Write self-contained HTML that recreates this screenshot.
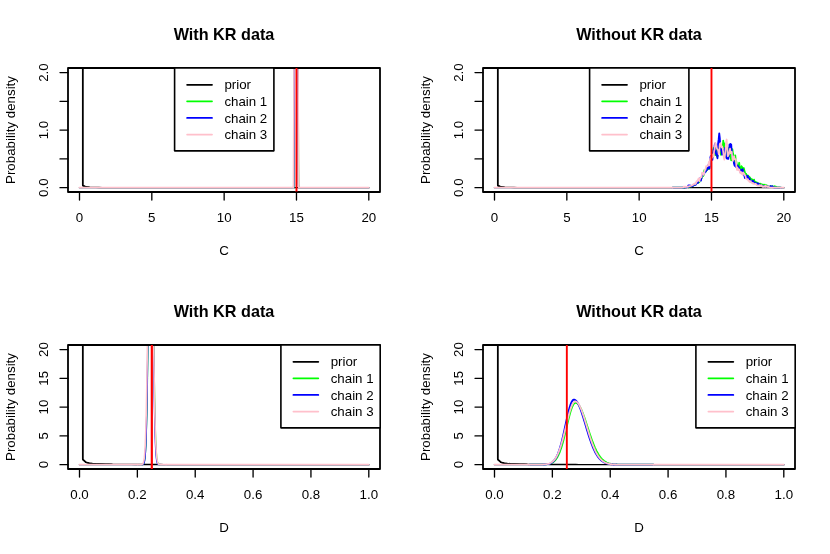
<!DOCTYPE html>
<html><head><meta charset="utf-8"><title>Posterior densities</title>
<style>html,body{margin:0;padding:0;background:#fff;}svg{display:block;will-change:transform;}</style></head>
<body>
<svg width="830" height="554" viewBox="0 0 830 554" font-family="Liberation Sans, sans-serif" fill="#000">
<rect width="830" height="554" fill="#fff"/>
<clipPath id="clip0_0"><rect x="68.00" y="68.00" width="312.00" height="124.00"/></clipPath>
<g clip-path="url(#clip0_0)" fill="none" stroke-linejoin="round" stroke-linecap="round">
<path d="M82.74,-42.45 L82.75,185.58 L86.00,186.92 L89.25,187.25 L92.50,187.39 L95.74,187.46 L98.99,187.51 L102.24,187.54 L105.49,187.56 L108.74,187.57 L111.99,187.58 L115.24,187.59 L118.49,187.60 L121.73,187.61 L128.23,187.61 L137.98,187.62 L157.47,187.63 L212.70,187.64 L368.80,187.65" stroke="#000" stroke-width="1.33"/>
<path d="M82.74,-42.45 L82.75,185.58 L86.00,186.92 L89.25,187.25" stroke="#000" stroke-width="1.6"/>
<path d="M79.50,187.65 L293.73,187.65" stroke="#00ff00" stroke-width="1.33"/>
<path d="M298.79,187.65 L368.80,187.65" stroke="#00ff00" stroke-width="1.33"/>
<path d="M293.73,187.65 L293.90,184.20 L294.45,63.97 L295.37,-157.50 L296.26,-272.55 L297.14,-157.50 L298.07,63.97 L298.61,184.20 L298.79,187.65" stroke="#00ff00" stroke-width="1.38"/>
<path d="M79.50,187.65 L293.63,187.65" stroke="#0000ff" stroke-width="1.33"/>
<path d="M298.60,187.65 L368.80,187.65" stroke="#0000ff" stroke-width="1.33"/>
<path d="M293.63,187.65 L293.80,184.20 L294.35,63.97 L295.24,-157.50 L296.11,-272.55 L296.98,-157.50 L297.88,63.97 L298.43,184.20 L298.60,187.65" stroke="#0000ff" stroke-width="1.38"/>
<path d="M79.50,187.65 L293.29,187.65" stroke="#ffc0cb" stroke-width="1.8"/>
<path d="M298.79,187.65 L368.80,187.65" stroke="#ffc0cb" stroke-width="1.8"/>
<path d="M293.29,187.65 L293.49,184.20 L294.04,63.97 L295.08,-157.50 L296.04,-272.55 L297.00,-157.50 L298.04,63.97 L298.60,184.20 L298.79,187.65" stroke="#ffc0cb" stroke-width="1.6"/>
</g>
<rect x="68.00" y="68.00" width="312.00" height="124.00" fill="none" stroke="#000" stroke-width="1.8" stroke-linejoin="round"/>
<line clip-path="url(#clip0_0)" x1="296.48" y1="245.18" x2="296.48" y2="15.07" stroke="#ff0000" stroke-width="1.9"/>
<line x1="79.50" y1="192.00" x2="79.50" y2="200.00" stroke="#000" stroke-width="1.33" stroke-linecap="round"/>
<text x="79.50" y="222.00" text-anchor="middle" font-size="13.3">0</text>
<line x1="151.82" y1="192.00" x2="151.82" y2="200.00" stroke="#000" stroke-width="1.33" stroke-linecap="round"/>
<text x="151.82" y="222.00" text-anchor="middle" font-size="13.3">5</text>
<line x1="224.15" y1="192.00" x2="224.15" y2="200.00" stroke="#000" stroke-width="1.33" stroke-linecap="round"/>
<text x="224.15" y="222.00" text-anchor="middle" font-size="13.3">10</text>
<line x1="296.48" y1="192.00" x2="296.48" y2="200.00" stroke="#000" stroke-width="1.33" stroke-linecap="round"/>
<text x="296.48" y="222.00" text-anchor="middle" font-size="13.3">15</text>
<line x1="368.80" y1="192.00" x2="368.80" y2="200.00" stroke="#000" stroke-width="1.33" stroke-linecap="round"/>
<text x="368.80" y="222.00" text-anchor="middle" font-size="13.3">20</text>
<line x1="68.00" y1="187.65" x2="60.00" y2="187.65" stroke="#000" stroke-width="1.33" stroke-linecap="round"/>
<line x1="68.00" y1="158.89" x2="60.00" y2="158.89" stroke="#000" stroke-width="1.33" stroke-linecap="round"/>
<line x1="68.00" y1="130.12" x2="60.00" y2="130.12" stroke="#000" stroke-width="1.33" stroke-linecap="round"/>
<line x1="68.00" y1="101.36" x2="60.00" y2="101.36" stroke="#000" stroke-width="1.33" stroke-linecap="round"/>
<line x1="68.00" y1="72.60" x2="60.00" y2="72.60" stroke="#000" stroke-width="1.33" stroke-linecap="round"/>
<text transform="translate(48.00,187.65) rotate(-90)" text-anchor="middle" font-size="13.3">0.0</text>
<text transform="translate(48.00,130.12) rotate(-90)" text-anchor="middle" font-size="13.3">1.0</text>
<text transform="translate(48.00,72.60) rotate(-90)" text-anchor="middle" font-size="13.3">2.0</text>
<text x="224.00" y="39.70" text-anchor="middle" font-size="16.2" font-weight="bold">With KR data</text>
<text x="224.00" y="255.10" text-anchor="middle" font-size="13.3">C</text>
<text transform="translate(14.90,130.00) rotate(-90)" text-anchor="middle" font-size="13.3">Probability density</text>
<rect x="174.60" y="68.00" width="99.3" height="82.85" fill="#fff" stroke="#000" stroke-width="1.6" stroke-linejoin="round"/>
<line x1="187.10" y1="84.75" x2="212.00" y2="84.75" stroke="#000" stroke-width="1.75" stroke-linecap="round"/>
<text x="224.40" y="89.30" font-size="13.3">prior</text>
<line x1="187.10" y1="101.35" x2="212.00" y2="101.35" stroke="#00ff00" stroke-width="1.75" stroke-linecap="round"/>
<text x="224.40" y="105.90" font-size="13.3">chain 1</text>
<line x1="187.10" y1="117.95" x2="212.00" y2="117.95" stroke="#0000ff" stroke-width="1.75" stroke-linecap="round"/>
<text x="224.40" y="122.50" font-size="13.3">chain 2</text>
<line x1="187.10" y1="134.55" x2="212.00" y2="134.55" stroke="#ffc0cb" stroke-width="1.75" stroke-linecap="round"/>
<text x="224.40" y="139.10" font-size="13.3">chain 3</text>
<clipPath id="clip415_0"><rect x="483.00" y="68.00" width="312.00" height="124.00"/></clipPath>
<g clip-path="url(#clip415_0)" fill="none" stroke-linejoin="round" stroke-linecap="round">
<path d="M497.74,-42.45 L497.75,185.58 L501.00,186.92 L504.25,187.25 L507.50,187.39 L510.74,187.46 L513.99,187.51 L517.24,187.54 L520.49,187.56 L523.74,187.57 L526.99,187.58 L530.24,187.59 L533.49,187.60 L536.73,187.61 L543.23,187.61 L552.98,187.62 L572.47,187.63 L627.70,187.64 L783.80,187.65" stroke="#000" stroke-width="1.33"/>
<path d="M497.74,-42.45 L497.75,185.58 L501.00,186.92 L504.25,187.25" stroke="#000" stroke-width="1.6"/>
<path d="M494.50,187.65 L672.42,187.65" stroke="#00ff00" stroke-width="1.33"/>
<path d="M780.91,187.65 L783.80,187.65" stroke="#00ff00" stroke-width="1.33"/>
<path d="M672.42,187.65 L678.13,187.63 L679.27,187.62 L680.98,187.60 L681.56,187.57 L683.27,187.56 L683.84,187.53 L684.41,187.50 L684.98,187.48 L685.55,187.45 L686.12,186.92 L686.69,187.18 L687.27,186.87 L687.84,187.22 L688.41,187.32 L688.98,187.09 L689.55,186.84 L690.12,185.85 L690.69,186.27 L691.26,186.38 L691.83,185.80 L692.40,185.70 L692.98,185.47 L693.55,185.62 L694.12,184.91 L694.69,184.91 L695.26,184.13 L695.83,183.92 L696.40,183.70 L696.97,182.96 L697.54,182.59 L698.11,182.53 L698.68,181.93 L699.26,182.33 L699.83,180.48 L700.40,179.56 L700.97,178.86 L701.54,178.39 L702.11,176.59 L702.68,176.26 L703.25,176.07 L703.82,174.25 L704.39,170.22 L704.97,171.37 L705.54,171.17 L706.11,171.39 L706.68,168.45 L707.25,167.81 L707.82,169.26 L708.39,165.78 L708.96,169.13 L709.53,166.41 L710.10,160.47 L710.68,160.91 L711.25,159.78 L711.82,156.56 L712.39,154.46 L712.96,157.13 L713.53,148.11 L714.10,149.92 L714.67,151.39 L715.24,155.14 L715.81,150.54 L716.39,148.97 L716.96,156.71 L717.53,156.41 L718.10,151.33 L718.67,147.58 L719.24,149.86 L719.81,147.41 L720.38,150.52 L720.95,154.79 L721.52,146.93 L722.10,149.44 L722.67,149.30 L723.24,140.56 L723.81,146.62 L724.38,143.46 L724.95,153.36 L725.52,156.58 L726.09,150.78 L726.66,150.80 L727.23,151.81 L727.81,149.15 L728.38,154.56 L728.95,147.78 L729.52,156.42 L730.09,152.39 L730.66,156.33 L731.23,160.34 L731.80,154.31 L732.37,149.16 L732.94,153.25 L733.52,155.83 L734.09,163.30 L734.66,157.30 L735.23,155.33 L735.80,160.58 L736.37,161.95 L736.94,166.73 L737.51,166.07 L738.08,165.90 L738.65,165.55 L739.22,162.76 L739.80,169.28 L740.37,169.64 L740.94,168.31 L741.51,166.24 L742.08,167.00 L742.65,170.28 L743.22,169.08 L743.79,168.02 L744.36,170.36 L744.93,172.56 L745.51,174.63 L746.08,173.84 L746.65,175.61 L747.22,175.99 L747.79,175.51 L748.36,176.06 L748.93,176.57 L749.50,177.00 L750.07,177.87 L750.64,178.60 L751.22,179.36 L751.79,179.07 L752.36,179.75 L752.93,180.52 L753.50,181.27 L754.07,179.71 L754.64,181.52 L755.21,182.56 L755.78,182.07 L756.35,182.31 L756.93,182.54 L757.50,182.86 L758.07,183.62 L758.64,184.14 L759.21,184.43 L759.78,183.72 L760.35,183.77 L760.92,184.12 L761.49,184.90 L762.06,184.35 L762.64,184.92 L763.21,185.21 L763.78,184.59 L764.35,185.31 L764.92,184.67 L765.49,185.57 L766.06,186.09 L766.63,185.22 L767.20,186.05 L767.77,186.17 L768.35,186.47 L768.92,186.87 L769.49,186.67 L770.06,186.54 L770.63,186.03 L771.20,186.77 L771.77,187.10 L772.34,186.28 L772.91,186.90 L773.48,187.12 L774.06,186.43 L774.63,186.25 L775.20,186.74 L775.77,186.64 L776.34,186.79 L776.91,187.41 L777.48,187.48 L779.19,187.48 L779.77,187.51 L780.34,187.54 L780.91,187.65" stroke="#00ff00" stroke-width="1.8"/>
<path d="M494.50,187.65 L672.42,187.65" stroke="#0000ff" stroke-width="1.33"/>
<path d="M780.91,187.65 L783.80,187.65" stroke="#0000ff" stroke-width="1.33"/>
<path d="M672.42,187.65 L678.13,187.63 L680.41,187.62 L680.98,187.61 L681.56,187.59 L682.13,187.58 L682.70,187.57 L683.27,187.52 L683.84,187.51 L684.41,187.50 L684.98,187.47 L685.55,187.45 L686.12,187.18 L686.69,187.28 L687.27,186.79 L687.84,186.97 L688.41,185.42 L688.98,186.90 L689.55,185.41 L690.12,185.29 L690.69,186.39 L691.26,186.34 L691.83,186.26 L692.40,185.46 L692.98,185.85 L693.55,185.31 L694.12,184.76 L694.69,184.65 L695.26,184.85 L695.83,184.63 L696.40,182.96 L696.97,183.03 L697.54,182.72 L698.11,182.75 L698.68,180.14 L699.26,179.95 L699.83,178.49 L700.40,179.18 L700.97,180.60 L701.54,177.67 L702.11,175.91 L702.68,173.68 L703.25,173.12 L703.82,174.52 L704.39,173.08 L704.97,172.30 L705.54,171.69 L706.11,170.68 L706.68,170.33 L707.25,169.73 L707.82,165.40 L708.39,166.23 L708.96,168.30 L709.53,168.52 L710.10,159.04 L710.68,156.06 L711.25,155.94 L711.82,155.84 L712.39,159.96 L712.96,154.97 L713.53,149.64 L714.10,152.07 L714.67,145.10 L715.24,143.47 L715.81,152.94 L716.39,154.92 L716.96,154.11 L717.53,158.31 L718.10,143.54 L718.67,139.39 L719.24,133.31 L719.81,138.04 L720.38,149.73 L720.95,148.38 L721.52,151.95 L722.10,154.70 L722.67,152.83 L723.24,149.90 L723.81,151.59 L724.38,154.33 L724.95,147.80 L725.52,148.32 L726.09,157.29 L726.66,158.35 L727.23,158.72 L727.81,155.91 L728.38,158.89 L728.95,152.77 L729.52,144.52 L730.09,151.37 L730.66,143.99 L731.23,144.62 L731.80,153.23 L732.37,157.08 L732.94,156.98 L733.52,160.13 L734.09,163.89 L734.66,165.73 L735.23,163.20 L735.80,166.86 L736.37,164.22 L736.94,165.73 L737.51,167.73 L738.08,166.18 L738.65,167.27 L739.22,167.80 L739.80,170.57 L740.37,171.98 L740.94,170.07 L741.51,169.82 L742.08,170.75 L742.65,169.10 L743.22,172.05 L743.79,173.68 L744.36,175.66 L744.93,178.06 L745.51,176.59 L746.08,175.64 L746.65,177.30 L747.22,178.61 L747.79,175.92 L748.36,178.14 L748.93,179.15 L749.50,178.33 L750.07,179.91 L750.64,180.74 L751.22,181.76 L751.79,181.53 L752.36,181.56 L752.93,180.62 L753.50,182.08 L754.07,182.23 L754.64,183.07 L755.21,183.13 L755.78,183.09 L756.35,183.16 L756.93,184.37 L757.50,183.41 L758.07,184.52 L758.64,183.49 L759.21,184.80 L759.78,185.15 L760.35,185.52 L760.92,185.49 L761.49,185.49 L762.06,185.94 L762.64,185.77 L763.21,186.44 L763.78,185.84 L764.35,186.65 L764.92,185.89 L765.49,186.67 L766.06,186.63 L766.63,186.41 L767.20,186.81 L767.77,186.71 L768.35,186.23 L768.92,187.14 L769.49,186.88 L770.06,186.94 L770.63,186.11 L771.20,186.78 L771.77,186.68 L772.34,186.25 L772.91,187.43 L773.48,187.46 L774.06,187.50 L774.63,187.51 L775.20,187.53 L776.91,187.54 L777.48,187.56 L778.05,187.58 L779.77,187.59 L780.34,187.61 L780.91,187.65" stroke="#0000ff" stroke-width="1.8"/>
<path d="M494.50,187.65 L672.42,187.65" stroke="#ffc0cb" stroke-width="1.8"/>
<path d="M780.91,187.65 L783.80,187.65" stroke="#ffc0cb" stroke-width="1.8"/>
<path d="M672.42,187.65 L675.85,187.63 L677.56,187.61 L678.70,187.60 L679.84,187.58 L681.56,187.56 L682.13,187.53 L682.70,187.50 L683.27,187.46 L683.84,186.51 L684.41,186.59 L684.98,187.19 L685.55,186.59 L686.12,186.81 L686.69,186.90 L687.27,186.99 L687.84,186.68 L688.41,186.62 L688.98,186.20 L689.55,186.15 L690.12,186.16 L690.69,185.96 L691.26,185.64 L691.83,185.42 L692.40,185.15 L692.98,184.47 L693.55,184.68 L694.12,183.50 L694.69,183.64 L695.26,184.13 L695.83,183.78 L696.40,181.45 L696.97,181.73 L697.54,180.34 L698.11,179.37 L698.68,178.31 L699.26,181.21 L699.83,179.59 L700.40,177.97 L700.97,176.92 L701.54,177.02 L702.11,172.58 L702.68,172.79 L703.25,173.48 L703.82,174.84 L704.39,172.31 L704.97,169.29 L705.54,169.74 L706.11,166.05 L706.68,166.60 L707.25,166.07 L707.82,166.04 L708.39,164.34 L708.96,161.65 L709.53,165.44 L710.10,158.72 L710.68,159.31 L711.25,156.54 L711.82,154.66 L712.39,157.70 L712.96,154.39 L713.53,156.73 L714.10,151.14 L714.67,149.31 L715.24,142.78 L715.81,145.17 L716.39,145.53 L716.96,148.66 L717.53,149.29 L718.10,150.32 L718.67,154.10 L719.24,152.82 L719.81,144.14 L720.38,143.02 L720.95,143.80 L721.52,147.39 L722.10,146.21 L722.67,148.12 L723.24,152.25 L723.81,157.83 L724.38,159.75 L724.95,155.51 L725.52,149.84 L726.09,142.29 L726.66,139.48 L727.23,146.69 L727.81,156.44 L728.38,155.18 L728.95,154.17 L729.52,151.20 L730.09,148.64 L730.66,153.27 L731.23,152.09 L731.80,151.95 L732.37,159.20 L732.94,160.85 L733.52,158.16 L734.09,156.05 L734.66,159.37 L735.23,159.02 L735.80,159.27 L736.37,166.50 L736.94,169.98 L737.51,167.62 L738.08,170.05 L738.65,169.59 L739.22,169.32 L739.80,171.76 L740.37,173.16 L740.94,171.97 L741.51,173.86 L742.08,173.23 L742.65,174.81 L743.22,172.44 L743.79,173.35 L744.36,173.94 L744.93,175.36 L745.51,176.09 L746.08,178.64 L746.65,179.27 L747.22,179.42 L747.79,179.05 L748.36,180.63 L748.93,180.63 L749.50,181.95 L750.07,181.04 L750.64,181.41 L751.22,182.15 L751.79,182.84 L752.36,182.98 L752.93,183.55 L753.50,183.16 L754.07,184.04 L754.64,184.01 L755.21,183.90 L755.78,183.74 L756.35,184.66 L756.93,185.24 L757.50,185.34 L758.07,185.85 L758.64,185.50 L759.21,185.08 L759.78,185.28 L760.35,185.36 L760.92,186.42 L761.49,185.20 L762.06,186.20 L762.64,186.88 L763.21,186.34 L763.78,186.89 L764.35,186.10 L764.92,186.78 L765.49,185.58 L766.06,186.89 L766.63,186.25 L767.20,186.32 L767.77,187.10 L768.35,186.23 L768.92,187.04 L769.49,187.35 L770.06,187.48 L770.63,187.50 L771.20,187.52 L771.77,187.54 L772.34,187.53 L772.91,187.51 L773.48,187.53 L774.06,187.55 L774.63,187.56 L775.20,187.58 L776.34,187.59 L777.48,187.61 L779.77,187.63 L780.34,187.63 L780.91,187.65" stroke="#ffc0cb" stroke-width="1.7"/>
</g>
<rect x="483.00" y="68.00" width="312.00" height="124.00" fill="none" stroke="#000" stroke-width="1.8" stroke-linejoin="round"/>
<line clip-path="url(#clip415_0)" x1="711.48" y1="245.18" x2="711.48" y2="15.07" stroke="#ff0000" stroke-width="1.9"/>
<line x1="494.50" y1="192.00" x2="494.50" y2="200.00" stroke="#000" stroke-width="1.33" stroke-linecap="round"/>
<text x="494.50" y="222.00" text-anchor="middle" font-size="13.3">0</text>
<line x1="566.83" y1="192.00" x2="566.83" y2="200.00" stroke="#000" stroke-width="1.33" stroke-linecap="round"/>
<text x="566.83" y="222.00" text-anchor="middle" font-size="13.3">5</text>
<line x1="639.15" y1="192.00" x2="639.15" y2="200.00" stroke="#000" stroke-width="1.33" stroke-linecap="round"/>
<text x="639.15" y="222.00" text-anchor="middle" font-size="13.3">10</text>
<line x1="711.48" y1="192.00" x2="711.48" y2="200.00" stroke="#000" stroke-width="1.33" stroke-linecap="round"/>
<text x="711.48" y="222.00" text-anchor="middle" font-size="13.3">15</text>
<line x1="783.80" y1="192.00" x2="783.80" y2="200.00" stroke="#000" stroke-width="1.33" stroke-linecap="round"/>
<text x="783.80" y="222.00" text-anchor="middle" font-size="13.3">20</text>
<line x1="483.00" y1="187.65" x2="475.00" y2="187.65" stroke="#000" stroke-width="1.33" stroke-linecap="round"/>
<line x1="483.00" y1="158.89" x2="475.00" y2="158.89" stroke="#000" stroke-width="1.33" stroke-linecap="round"/>
<line x1="483.00" y1="130.12" x2="475.00" y2="130.12" stroke="#000" stroke-width="1.33" stroke-linecap="round"/>
<line x1="483.00" y1="101.36" x2="475.00" y2="101.36" stroke="#000" stroke-width="1.33" stroke-linecap="round"/>
<line x1="483.00" y1="72.60" x2="475.00" y2="72.60" stroke="#000" stroke-width="1.33" stroke-linecap="round"/>
<text transform="translate(463.00,187.65) rotate(-90)" text-anchor="middle" font-size="13.3">0.0</text>
<text transform="translate(463.00,130.12) rotate(-90)" text-anchor="middle" font-size="13.3">1.0</text>
<text transform="translate(463.00,72.60) rotate(-90)" text-anchor="middle" font-size="13.3">2.0</text>
<text x="639.00" y="39.70" text-anchor="middle" font-size="16.2" font-weight="bold">Without KR data</text>
<text x="639.00" y="255.10" text-anchor="middle" font-size="13.3">C</text>
<text transform="translate(429.90,130.00) rotate(-90)" text-anchor="middle" font-size="13.3">Probability density</text>
<rect x="589.60" y="68.00" width="99.3" height="82.85" fill="#fff" stroke="#000" stroke-width="1.6" stroke-linejoin="round"/>
<line x1="602.10" y1="84.75" x2="627.00" y2="84.75" stroke="#000" stroke-width="1.75" stroke-linecap="round"/>
<text x="639.40" y="89.30" font-size="13.3">prior</text>
<line x1="602.10" y1="101.35" x2="627.00" y2="101.35" stroke="#00ff00" stroke-width="1.75" stroke-linecap="round"/>
<text x="639.40" y="105.90" font-size="13.3">chain 1</text>
<line x1="602.10" y1="117.95" x2="627.00" y2="117.95" stroke="#0000ff" stroke-width="1.75" stroke-linecap="round"/>
<text x="639.40" y="122.50" font-size="13.3">chain 2</text>
<line x1="602.10" y1="134.55" x2="627.00" y2="134.55" stroke="#ffc0cb" stroke-width="1.75" stroke-linecap="round"/>
<text x="639.40" y="139.10" font-size="13.3">chain 3</text>
<clipPath id="clip0_277"><rect x="68.00" y="345.00" width="312.00" height="124.00"/></clipPath>
<g clip-path="url(#clip0_277)" fill="none" stroke-linejoin="round" stroke-linecap="round">
<path d="M82.74,234.55 L82.75,459.47 L86.00,462.35 L89.25,463.22 L92.50,463.63 L95.74,463.86 L98.99,464.01 L102.24,464.12 L105.49,464.20 L108.74,464.25 L111.99,464.30 L115.24,464.34 L118.49,464.37 L121.73,464.39 L124.98,464.41 L128.23,464.43 L131.48,464.45 L134.73,464.46 L137.98,464.47 L141.23,464.48 L144.48,464.49 L147.73,464.50 L150.97,464.51 L154.22,464.52 L157.47,464.52 L160.72,464.53 L163.97,464.54 L170.47,464.55 L176.97,464.55 L183.46,464.56 L193.21,464.57 L206.20,464.58 L222.45,464.59 L245.19,464.60 L277.68,464.61 L326.41,464.62 L368.65,464.62 L368.80,464.65" stroke="#000" stroke-width="1.33"/>
<path d="M82.74,234.55 L82.75,459.47 L86.00,462.35 L89.25,463.22 L92.50,463.63 L95.74,463.86 L98.99,464.01 L102.24,464.12 L105.49,464.20 L108.74,464.25 L111.99,464.30" stroke="#000" stroke-width="1.6"/>
<path d="M79.50,464.65 L137.36,464.65" stroke="#00ff00" stroke-width="1.33"/>
<path d="M166.29,464.65 L368.80,464.65" stroke="#00ff00" stroke-width="1.33"/>
<path d="M137.36,464.65 L141.22,464.64 L141.46,464.63 L141.70,464.62 L141.94,464.60 L142.18,464.56 L142.42,464.51 L142.66,464.44 L142.90,464.33 L143.15,464.16 L143.39,463.93 L143.63,463.59 L143.87,463.10 L144.11,462.43 L144.35,461.51 L144.59,460.26 L144.83,458.59 L145.07,456.40 L145.32,453.54 L145.56,449.89 L145.80,445.28 L146.04,439.56 L146.28,432.55 L146.52,424.10 L146.76,414.08 L147.00,402.37 L147.24,388.92 L147.49,373.73 L147.73,356.86 L147.97,338.47 L148.21,318.81 L148.45,298.21 L148.69,277.09 L148.93,255.95 L149.17,235.36 L149.41,215.91 L149.66,198.21 L149.90,182.85 L150.14,170.36 L150.38,161.19 L150.62,155.68 L150.86,154.03 L151.10,156.30 L151.34,162.42 L151.58,172.15 L151.82,185.13 L152.07,200.90 L152.31,218.92 L152.55,238.60 L152.79,259.31 L153.03,280.48 L153.27,301.55 L153.51,322.03 L153.75,341.51 L153.99,359.67 L154.24,376.28 L154.48,391.19 L154.72,404.36 L154.96,415.80 L155.20,425.56 L155.44,433.76 L155.68,440.56 L155.92,446.09 L156.16,450.53 L156.41,454.05 L156.65,456.79 L156.89,458.89 L157.13,460.49 L157.37,461.68 L157.61,462.56 L157.85,463.19 L158.09,463.65 L158.33,463.97 L158.58,464.19 L158.82,464.35 L159.06,464.45 L159.30,464.52 L159.54,464.57 L159.78,464.60 L160.02,464.62 L160.50,464.64 L166.29,464.65" stroke="#00ff00" stroke-width="1.38"/>
<path d="M79.50,464.65 L137.36,464.65" stroke="#0000ff" stroke-width="1.33"/>
<path d="M166.29,464.65 L368.80,464.65" stroke="#0000ff" stroke-width="1.33"/>
<path d="M137.36,464.65 L141.46,464.64 L141.70,464.63 L141.94,464.61 L142.18,464.59 L142.42,464.55 L142.66,464.49 L142.90,464.40 L143.15,464.26 L143.39,464.05 L143.63,463.74 L143.87,463.30 L144.11,462.68 L144.35,461.80 L144.59,460.59 L144.83,458.95 L145.07,456.74 L145.32,453.84 L145.56,450.08 L145.80,445.27 L146.04,439.22 L146.28,431.75 L146.52,422.67 L146.76,411.81 L147.00,399.05 L147.24,384.32 L147.49,367.64 L147.73,349.09 L147.97,328.88 L148.21,307.32 L148.45,284.82 L148.69,261.93 L148.93,239.24 L149.17,217.45 L149.41,197.25 L149.66,179.37 L149.90,164.45 L150.14,153.07 L150.38,145.69 L150.62,142.60 L150.86,143.93 L151.10,149.62 L151.34,159.44 L151.58,173.01 L151.82,189.78 L152.07,209.14 L152.31,230.38 L152.55,252.79 L152.79,275.68 L153.03,298.40 L153.27,320.40 L153.51,341.19 L153.75,360.43 L153.99,377.88 L154.24,393.40 L154.48,406.94 L154.72,418.54 L154.96,428.32 L155.20,436.42 L155.44,443.01 L155.68,448.29 L155.92,452.45 L156.16,455.68 L156.41,458.14 L156.65,459.99 L156.89,461.36 L157.13,462.36 L157.37,463.08 L157.61,463.59 L157.85,463.94 L158.09,464.18 L158.33,464.35 L158.58,464.46 L158.82,464.53 L159.06,464.57 L159.30,464.60 L159.54,464.62 L160.02,464.64 L166.29,464.65" stroke="#0000ff" stroke-width="1.38"/>
<path d="M79.50,464.65 L137.36,464.65" stroke="#ffc0cb" stroke-width="1.8"/>
<path d="M166.29,464.65 L368.80,464.65" stroke="#ffc0cb" stroke-width="1.8"/>
<path d="M137.36,464.65 L140.49,464.63 L140.74,464.63 L140.98,464.61 L141.22,464.59 L141.46,464.56 L141.70,464.51 L141.94,464.43 L142.18,464.32 L142.42,464.17 L142.66,463.95 L142.90,463.64 L143.15,463.20 L143.39,462.60 L143.63,461.79 L143.87,460.71 L144.11,459.27 L144.35,457.40 L144.59,454.98 L144.83,451.90 L145.07,448.02 L145.32,443.22 L145.56,437.35 L145.80,430.27 L146.04,421.83 L146.28,411.93 L146.52,400.48 L146.76,387.43 L147.00,372.78 L147.24,356.59 L147.49,338.99 L147.73,320.18 L147.97,300.45 L148.21,280.13 L148.45,259.65 L148.69,239.49 L148.93,220.14 L149.17,202.15 L149.41,186.04 L149.66,172.29 L149.90,161.34 L150.14,153.56 L150.38,149.20 L150.62,148.40 L150.86,151.21 L151.10,157.51 L151.34,167.10 L151.58,179.67 L151.82,194.80 L152.07,212.03 L152.31,230.84 L152.55,250.71 L152.79,271.11 L153.03,291.55 L153.27,311.59 L153.51,330.85 L153.75,349.01 L153.99,365.84 L154.24,381.18 L154.48,394.94 L154.72,407.09 L154.96,417.66 L155.20,426.73 L155.44,434.39 L155.68,440.78 L155.92,446.04 L156.16,450.30 L156.41,453.71 L156.65,456.40 L156.89,458.51 L157.13,460.12 L157.37,461.35 L157.61,462.28 L157.85,462.96 L158.09,463.46 L158.33,463.82 L158.58,464.08 L158.82,464.26 L159.06,464.39 L159.30,464.48 L159.54,464.54 L159.78,464.58 L160.02,464.60 L160.26,464.62 L160.75,464.64 L166.29,464.65" stroke="#ffc0cb" stroke-width="1.6"/>
</g>
<rect x="68.00" y="345.00" width="312.00" height="124.00" fill="none" stroke="#000" stroke-width="1.8" stroke-linejoin="round"/>
<line clip-path="url(#clip0_277)" x1="151.82" y1="493.41" x2="151.82" y2="292.07" stroke="#ff0000" stroke-width="2.1849999999999996"/>
<line x1="79.50" y1="469.00" x2="79.50" y2="477.00" stroke="#000" stroke-width="1.33" stroke-linecap="round"/>
<text x="79.50" y="499.00" text-anchor="middle" font-size="13.3">0.0</text>
<line x1="137.36" y1="469.00" x2="137.36" y2="477.00" stroke="#000" stroke-width="1.33" stroke-linecap="round"/>
<text x="137.36" y="499.00" text-anchor="middle" font-size="13.3">0.2</text>
<line x1="195.22" y1="469.00" x2="195.22" y2="477.00" stroke="#000" stroke-width="1.33" stroke-linecap="round"/>
<text x="195.22" y="499.00" text-anchor="middle" font-size="13.3">0.4</text>
<line x1="253.08" y1="469.00" x2="253.08" y2="477.00" stroke="#000" stroke-width="1.33" stroke-linecap="round"/>
<text x="253.08" y="499.00" text-anchor="middle" font-size="13.3">0.6</text>
<line x1="310.94" y1="469.00" x2="310.94" y2="477.00" stroke="#000" stroke-width="1.33" stroke-linecap="round"/>
<text x="310.94" y="499.00" text-anchor="middle" font-size="13.3">0.8</text>
<line x1="368.80" y1="469.00" x2="368.80" y2="477.00" stroke="#000" stroke-width="1.33" stroke-linecap="round"/>
<text x="368.80" y="499.00" text-anchor="middle" font-size="13.3">1.0</text>
<line x1="68.00" y1="464.65" x2="60.00" y2="464.65" stroke="#000" stroke-width="1.33" stroke-linecap="round"/>
<line x1="68.00" y1="435.89" x2="60.00" y2="435.89" stroke="#000" stroke-width="1.33" stroke-linecap="round"/>
<line x1="68.00" y1="407.12" x2="60.00" y2="407.12" stroke="#000" stroke-width="1.33" stroke-linecap="round"/>
<line x1="68.00" y1="378.36" x2="60.00" y2="378.36" stroke="#000" stroke-width="1.33" stroke-linecap="round"/>
<line x1="68.00" y1="349.60" x2="60.00" y2="349.60" stroke="#000" stroke-width="1.33" stroke-linecap="round"/>
<text transform="translate(48.00,464.65) rotate(-90)" text-anchor="middle" font-size="13.3">0</text>
<text transform="translate(48.00,435.89) rotate(-90)" text-anchor="middle" font-size="13.3">5</text>
<text transform="translate(48.00,407.12) rotate(-90)" text-anchor="middle" font-size="13.3">10</text>
<text transform="translate(48.00,378.36) rotate(-90)" text-anchor="middle" font-size="13.3">15</text>
<text transform="translate(48.00,349.60) rotate(-90)" text-anchor="middle" font-size="13.3">20</text>
<text x="224.00" y="316.70" text-anchor="middle" font-size="16.2" font-weight="bold">With KR data</text>
<text x="224.00" y="532.10" text-anchor="middle" font-size="13.3">D</text>
<text transform="translate(14.90,407.00) rotate(-90)" text-anchor="middle" font-size="13.3">Probability density</text>
<rect x="280.90" y="345.00" width="99.3" height="82.85" fill="#fff" stroke="#000" stroke-width="1.6" stroke-linejoin="round"/>
<line x1="293.40" y1="361.75" x2="318.30" y2="361.75" stroke="#000" stroke-width="1.75" stroke-linecap="round"/>
<text x="330.70" y="366.30" font-size="13.3">prior</text>
<line x1="293.40" y1="378.35" x2="318.30" y2="378.35" stroke="#00ff00" stroke-width="1.75" stroke-linecap="round"/>
<text x="330.70" y="382.90" font-size="13.3">chain 1</text>
<line x1="293.40" y1="394.95" x2="318.30" y2="394.95" stroke="#0000ff" stroke-width="1.75" stroke-linecap="round"/>
<text x="330.70" y="399.50" font-size="13.3">chain 2</text>
<line x1="293.40" y1="411.55" x2="318.30" y2="411.55" stroke="#ffc0cb" stroke-width="1.75" stroke-linecap="round"/>
<text x="330.70" y="416.10" font-size="13.3">chain 3</text>
<clipPath id="clip415_277"><rect x="483.00" y="345.00" width="312.00" height="124.00"/></clipPath>
<g clip-path="url(#clip415_277)" fill="none" stroke-linejoin="round" stroke-linecap="round">
<path d="M497.74,234.55 L497.75,459.47 L501.00,462.35 L504.25,463.22 L507.50,463.63 L510.74,463.86 L513.99,464.01 L517.24,464.12 L520.49,464.20 L523.74,464.25 L526.99,464.30 L530.24,464.34 L533.49,464.37 L536.73,464.39 L539.98,464.41 L543.23,464.43 L546.48,464.45 L549.73,464.46 L552.98,464.47 L556.23,464.48 L559.48,464.49 L562.73,464.50 L565.97,464.51 L569.22,464.52 L572.47,464.52 L575.72,464.53 L578.97,464.54 L585.47,464.55 L591.97,464.55 L598.46,464.56 L608.21,464.57 L621.20,464.58 L637.45,464.59 L660.19,464.60 L692.68,464.61 L741.41,464.62 L783.65,464.62 L783.80,464.65" stroke="#000" stroke-width="1.33"/>
<path d="M497.74,234.55 L497.75,459.47 L501.00,462.35 L504.25,463.22 L507.50,463.63 L510.74,463.86 L513.99,464.01 L517.24,464.12 L520.49,464.20 L523.74,464.25 L526.99,464.30" stroke="#000" stroke-width="1.6"/>
<path d="M494.50,464.65 L529.22,464.65" stroke="#00ff00" stroke-width="1.33"/>
<path d="M653.62,464.65 L783.80,464.65" stroke="#00ff00" stroke-width="1.33"/>
<path d="M529.22,464.65 L539.46,464.64 L540.92,464.62 L541.66,464.61 L542.39,464.60 L543.12,464.58 L543.85,464.55 L544.58,464.52 L545.31,464.47 L546.05,464.42 L546.78,464.34 L547.51,464.25 L548.24,464.13 L548.97,463.98 L549.71,463.79 L550.44,463.56 L551.17,463.27 L551.90,462.92 L552.63,462.50 L553.36,461.99 L554.10,461.39 L554.83,460.68 L555.56,459.84 L556.29,458.87 L557.02,457.75 L557.75,456.47 L558.49,455.02 L559.22,453.39 L559.95,451.57 L560.68,449.57 L561.41,447.37 L562.15,444.99 L562.88,442.44 L563.61,439.73 L564.34,436.87 L565.07,433.91 L565.80,430.86 L566.54,427.76 L567.27,424.65 L568.00,421.58 L568.73,418.59 L569.46,415.73 L570.19,413.05 L570.93,410.60 L571.66,408.41 L572.39,406.54 L573.12,405.02 L573.85,403.88 L574.59,403.15 L575.32,402.82 L576.05,402.87 L576.78,403.15 L577.51,403.65 L578.24,404.36 L578.98,405.28 L579.71,406.40 L580.44,407.71 L581.17,409.18 L581.90,410.82 L582.63,412.59 L583.37,414.49 L584.10,416.50 L584.83,418.59 L585.56,420.75 L586.29,422.96 L587.02,425.20 L587.76,427.46 L588.49,429.71 L589.22,431.95 L589.95,434.15 L590.68,436.31 L591.42,438.41 L592.15,440.45 L592.88,442.40 L593.61,444.28 L594.34,446.06 L595.07,447.75 L595.81,449.34 L596.54,450.83 L597.27,452.22 L598.00,453.51 L598.73,454.70 L599.46,455.80 L600.20,456.81 L600.93,457.72 L601.66,458.55 L602.39,459.31 L603.12,459.98 L603.86,460.59 L604.59,461.12 L605.32,461.60 L606.05,462.03 L606.78,462.40 L607.51,462.73 L608.25,463.01 L608.98,463.26 L609.71,463.47 L610.44,463.66 L611.17,463.82 L611.90,463.95 L612.64,464.07 L613.37,464.17 L614.10,464.25 L614.83,464.32 L615.56,464.38 L616.30,464.43 L617.03,464.47 L617.76,464.50 L618.49,464.53 L619.22,464.55 L619.95,464.57 L620.69,464.59 L621.42,464.60 L622.88,464.62 L625.81,464.64 L653.62,464.65" stroke="#00ff00" stroke-width="1.7"/>
<path d="M494.50,464.65 L529.22,464.65" stroke="#0000ff" stroke-width="1.33"/>
<path d="M653.62,464.65 L783.80,464.65" stroke="#0000ff" stroke-width="1.33"/>
<path d="M529.22,464.65 L539.46,464.63 L540.92,464.62 L541.66,464.61 L542.39,464.59 L543.12,464.57 L543.85,464.53 L544.58,464.49 L545.31,464.44 L546.05,464.37 L546.78,464.28 L547.51,464.16 L548.24,464.01 L548.97,463.82 L549.71,463.58 L550.44,463.28 L551.17,462.92 L551.90,462.47 L552.63,461.93 L553.36,461.28 L554.10,460.50 L554.83,459.59 L555.56,458.51 L556.29,457.27 L557.02,455.84 L557.75,454.22 L558.49,452.38 L559.22,450.33 L559.95,448.07 L560.68,445.59 L561.41,442.90 L562.15,440.01 L562.88,436.96 L563.61,433.76 L564.34,430.44 L565.07,427.06 L565.80,423.64 L566.54,420.26 L567.27,416.95 L568.00,413.77 L568.73,410.79 L569.46,408.07 L570.19,405.65 L570.93,403.58 L571.66,401.92 L572.39,400.69 L573.12,399.93 L573.85,399.65 L574.59,399.75 L575.32,400.11 L576.05,400.72 L576.78,401.56 L577.51,402.64 L578.24,403.94 L578.98,405.44 L579.71,407.13 L580.44,408.99 L581.17,411.00 L581.90,413.13 L582.63,415.38 L583.37,417.71 L584.10,420.10 L584.83,422.54 L585.56,424.99 L586.29,427.45 L587.02,429.90 L587.76,432.31 L588.49,434.67 L589.22,436.96 L589.95,439.18 L590.68,441.31 L591.42,443.35 L592.15,445.29 L592.88,447.11 L593.61,448.83 L594.34,450.44 L595.07,451.93 L595.81,453.31 L596.54,454.58 L597.27,455.74 L598.00,456.80 L598.73,457.76 L599.46,458.62 L600.20,459.40 L600.93,460.10 L601.66,460.71 L602.39,461.26 L603.12,461.74 L603.86,462.17 L604.59,462.54 L605.32,462.86 L606.05,463.14 L606.78,463.38 L607.51,463.59 L608.25,463.76 L608.98,463.91 L609.71,464.04 L610.44,464.15 L611.17,464.24 L611.90,464.31 L612.64,464.37 L613.37,464.43 L614.10,464.47 L614.83,464.50 L615.56,464.53 L616.30,464.56 L617.03,464.58 L617.76,464.59 L618.49,464.60 L619.95,464.62 L622.88,464.64 L653.62,464.65" stroke="#0000ff" stroke-width="1.9"/>
<path d="M494.50,464.65 L529.22,464.65" stroke="#ffc0cb" stroke-width="1.8"/>
<path d="M653.62,464.65 L783.80,464.65" stroke="#ffc0cb" stroke-width="1.8"/>
<path d="M529.22,464.65 L538.00,464.63 L539.46,464.62 L540.19,464.60 L540.92,464.59 L541.66,464.57 L542.39,464.54 L543.12,464.51 L543.85,464.46 L544.58,464.40 L545.31,464.33 L546.05,464.23 L546.78,464.12 L547.51,463.97 L548.24,463.79 L548.97,463.57 L549.71,463.30 L550.44,462.97 L551.17,462.57 L551.90,462.10 L552.63,461.54 L553.36,460.88 L554.10,460.11 L554.83,459.22 L555.56,458.19 L556.29,457.02 L557.02,455.69 L557.75,454.20 L558.49,452.54 L559.22,450.70 L559.95,448.68 L560.68,446.48 L561.41,444.11 L562.15,441.58 L562.88,438.90 L563.61,436.10 L564.34,433.18 L565.07,430.19 L565.80,427.15 L566.54,424.10 L567.27,421.08 L568.00,418.13 L568.73,415.29 L569.46,412.61 L570.19,410.13 L570.93,407.89 L571.66,405.93 L572.39,404.29 L573.12,402.99 L573.85,402.06 L574.59,401.52 L575.32,401.37 L576.05,401.54 L576.78,401.95 L577.51,402.62 L578.24,403.52 L578.98,404.66 L579.71,406.01 L580.44,407.56 L581.17,409.30 L581.90,411.20 L582.63,413.24 L583.37,415.40 L584.10,417.66 L584.83,420.00 L585.56,422.39 L586.29,424.82 L587.02,427.26 L587.76,429.69 L588.49,432.09 L589.22,434.45 L589.95,436.76 L590.68,438.99 L591.42,441.13 L592.15,443.19 L592.88,445.14 L593.61,446.99 L594.34,448.73 L595.07,450.35 L595.81,451.86 L596.54,453.26 L597.27,454.54 L598.00,455.72 L598.73,456.79 L599.46,457.76 L600.20,458.64 L600.93,459.42 L601.66,460.12 L602.39,460.75 L603.12,461.30 L603.86,461.78 L604.59,462.21 L605.32,462.58 L606.05,462.90 L606.78,463.17 L607.51,463.41 L608.25,463.62 L608.98,463.79 L609.71,463.94 L610.44,464.06 L611.17,464.17 L611.90,464.26 L612.64,464.33 L613.37,464.39 L614.10,464.44 L614.83,464.48 L615.56,464.51 L616.30,464.54 L617.03,464.56 L617.76,464.58 L618.49,464.60 L619.22,464.61 L620.69,464.62 L624.34,464.64 L653.62,464.65" stroke="#ffc0cb" stroke-width="1.8"/>
</g>
<rect x="483.00" y="345.00" width="312.00" height="124.00" fill="none" stroke="#000" stroke-width="1.8" stroke-linejoin="round"/>
<line clip-path="url(#clip415_277)" x1="566.83" y1="493.41" x2="566.83" y2="292.07" stroke="#ff0000" stroke-width="1.9"/>
<line x1="494.50" y1="469.00" x2="494.50" y2="477.00" stroke="#000" stroke-width="1.33" stroke-linecap="round"/>
<text x="494.50" y="499.00" text-anchor="middle" font-size="13.3">0.0</text>
<line x1="552.36" y1="469.00" x2="552.36" y2="477.00" stroke="#000" stroke-width="1.33" stroke-linecap="round"/>
<text x="552.36" y="499.00" text-anchor="middle" font-size="13.3">0.2</text>
<line x1="610.22" y1="469.00" x2="610.22" y2="477.00" stroke="#000" stroke-width="1.33" stroke-linecap="round"/>
<text x="610.22" y="499.00" text-anchor="middle" font-size="13.3">0.4</text>
<line x1="668.08" y1="469.00" x2="668.08" y2="477.00" stroke="#000" stroke-width="1.33" stroke-linecap="round"/>
<text x="668.08" y="499.00" text-anchor="middle" font-size="13.3">0.6</text>
<line x1="725.94" y1="469.00" x2="725.94" y2="477.00" stroke="#000" stroke-width="1.33" stroke-linecap="round"/>
<text x="725.94" y="499.00" text-anchor="middle" font-size="13.3">0.8</text>
<line x1="783.80" y1="469.00" x2="783.80" y2="477.00" stroke="#000" stroke-width="1.33" stroke-linecap="round"/>
<text x="783.80" y="499.00" text-anchor="middle" font-size="13.3">1.0</text>
<line x1="483.00" y1="464.65" x2="475.00" y2="464.65" stroke="#000" stroke-width="1.33" stroke-linecap="round"/>
<line x1="483.00" y1="435.89" x2="475.00" y2="435.89" stroke="#000" stroke-width="1.33" stroke-linecap="round"/>
<line x1="483.00" y1="407.12" x2="475.00" y2="407.12" stroke="#000" stroke-width="1.33" stroke-linecap="round"/>
<line x1="483.00" y1="378.36" x2="475.00" y2="378.36" stroke="#000" stroke-width="1.33" stroke-linecap="round"/>
<line x1="483.00" y1="349.60" x2="475.00" y2="349.60" stroke="#000" stroke-width="1.33" stroke-linecap="round"/>
<text transform="translate(463.00,464.65) rotate(-90)" text-anchor="middle" font-size="13.3">0</text>
<text transform="translate(463.00,435.89) rotate(-90)" text-anchor="middle" font-size="13.3">5</text>
<text transform="translate(463.00,407.12) rotate(-90)" text-anchor="middle" font-size="13.3">10</text>
<text transform="translate(463.00,378.36) rotate(-90)" text-anchor="middle" font-size="13.3">15</text>
<text transform="translate(463.00,349.60) rotate(-90)" text-anchor="middle" font-size="13.3">20</text>
<text x="639.00" y="316.70" text-anchor="middle" font-size="16.2" font-weight="bold">Without KR data</text>
<text x="639.00" y="532.10" text-anchor="middle" font-size="13.3">D</text>
<text transform="translate(429.90,407.00) rotate(-90)" text-anchor="middle" font-size="13.3">Probability density</text>
<rect x="695.90" y="345.00" width="99.3" height="82.85" fill="#fff" stroke="#000" stroke-width="1.6" stroke-linejoin="round"/>
<line x1="708.40" y1="361.75" x2="733.30" y2="361.75" stroke="#000" stroke-width="1.75" stroke-linecap="round"/>
<text x="745.70" y="366.30" font-size="13.3">prior</text>
<line x1="708.40" y1="378.35" x2="733.30" y2="378.35" stroke="#00ff00" stroke-width="1.75" stroke-linecap="round"/>
<text x="745.70" y="382.90" font-size="13.3">chain 1</text>
<line x1="708.40" y1="394.95" x2="733.30" y2="394.95" stroke="#0000ff" stroke-width="1.75" stroke-linecap="round"/>
<text x="745.70" y="399.50" font-size="13.3">chain 2</text>
<line x1="708.40" y1="411.55" x2="733.30" y2="411.55" stroke="#ffc0cb" stroke-width="1.75" stroke-linecap="round"/>
<text x="745.70" y="416.10" font-size="13.3">chain 3</text>
</svg>
</body></html>
